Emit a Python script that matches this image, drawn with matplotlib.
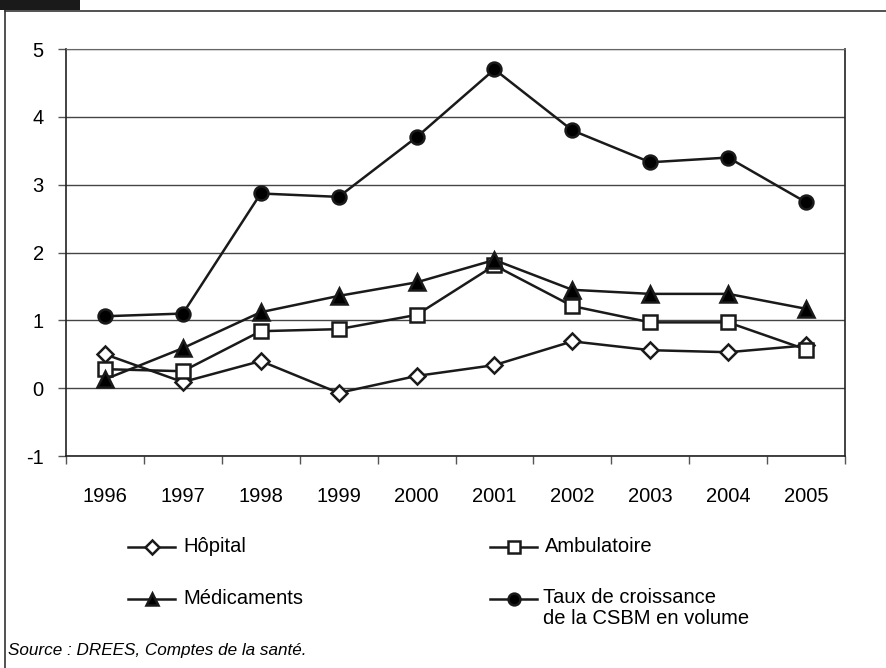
import matplotlib.pyplot as plt
from matplotlib.lines import Line2D
from matplotlib.patches import Rectangle

plt.rcParams['font.family'] = ['Liberation Sans', 'DejaVu Sans']

years = ['1996', '1997', '1998', '1999', '2000', '2001', '2002', '2003', '2004', '2005']
hopital = [0.50, 0.09, 0.40, -0.07, 0.18, 0.34, 0.69, 0.56, 0.53, 0.63]
ambulatoire = [0.28, 0.25, 0.84, 0.87, 1.08, 1.81, 1.21, 0.97, 0.97, 0.57]
medicaments = [0.13, 0.59, 1.12, 1.36, 1.56, 1.89, 1.45, 1.39, 1.39, 1.17]
csbm = [1.06, 1.10, 2.87, 2.82, 3.70, 4.70, 3.80, 3.33, 3.40, 2.74]

series = [
    ('Hôpital', hopital, dict(marker='D', markersize=8, markerfacecolor='white')),
    ('Ambulatoire', ambulatoire, dict(marker='s', markersize=10, markerfacecolor='white')),
    ('Médicaments', medicaments, dict(marker='^', markersize=11, markerfacecolor='black')),
    ('Taux de croissance\nde la CSBM en volume', csbm, dict(marker='o', markersize=10, markerfacecolor='black')),
]

fig = plt.figure(figsize=(8.86, 6.68), dpi=100)
W, H = 886, 668

# cadre de la page
fig.add_artist(Rectangle((0, 1 - 10 / H), 80 / W, 10 / H, transform=fig.transFigure,
                         facecolor='#1a1a1a', edgecolor='none'))
fig.add_artist(Line2D([5 / W, 1], [1 - 11 / H, 1 - 11 / H], transform=fig.transFigure,
                      color='#333333', lw=1.2))
fig.add_artist(Line2D([5 / W, 5 / W], [0, 1 - 11 / H], transform=fig.transFigure,
                      color='#333333', lw=1.2))

ax = fig.add_axes([66 / W, 1 - 456 / H, (845 - 66) / W, (456 - 49) / H])
x = list(range(len(years)))
for label, values, style in series:
    ax.plot(x, values, color='#1a1a1a', lw=1.8, markeredgecolor='#1a1a1a',
            markeredgewidth=1.8, clip_on=False, zorder=3, **style)

ax.set_xlim(-0.5, len(years) - 0.5)
ax.set_ylim(-1, 5)
ax.set_yticks(range(-1, 6))
ax.set_yticklabels([str(v) for v in range(-1, 6)])
ax.set_xticks(x)
ax.set_xticklabels(years)
ax.set_xticks([i - 0.5 for i in range(len(years) + 1)], minor=True)
ax.tick_params(axis='x', which='major', length=0, pad=22, labelsize=14.5)
ax.tick_params(axis='x', which='minor', length=6, width=1, color='#555555')
ax.tick_params(axis='y', length=6, width=1, color='#555555', pad=10, labelsize=14.5)
ax.grid(axis='y', color='#444444', lw=1)
ax.set_axisbelow(True)
ax.spines['top'].set_color('#666666')
for side in ['left', 'right', 'bottom']:
    ax.spines[side].set_color('#222222')
    ax.spines[side].set_linewidth(1.2)

# légende dessinée à la main, sur deux colonnes
legend_pos = [(128, 547), (490, 547), (128, 599), (490, 599)]
for (label, values, style), (lx, ly) in zip(series, legend_pos):
    fy = 1 - ly / H
    fig.add_artist(Line2D([lx / W, (lx + 47) / W], [fy, fy], transform=fig.transFigure,
                          color='#1a1a1a', lw=1.8))
    fig.add_artist(Line2D([(lx + 23.5) / W], [fy], transform=fig.transFigure,
                          color='#1a1a1a', markeredgecolor='#1a1a1a', markeredgewidth=1.8,
                          **{**style, 'markersize': style['markersize'] * 0.85}))
    if '\n' in label:
        fig.text((lx + 53) / W, fy + 11 / H, label, ha='left', va='top', fontsize=14.5,
                 linespacing=1.12)
    else:
        fig.text((lx + 55) / W, fy, label, ha='left', va='center', fontsize=14.5)

fig.text(8 / W, 1 - 650 / H, 'Source : DREES, Comptes de la santé.', fontsize=12.3,
         style='italic', va='center', ha='left')

fig.savefig('out.png', dpi=100)
